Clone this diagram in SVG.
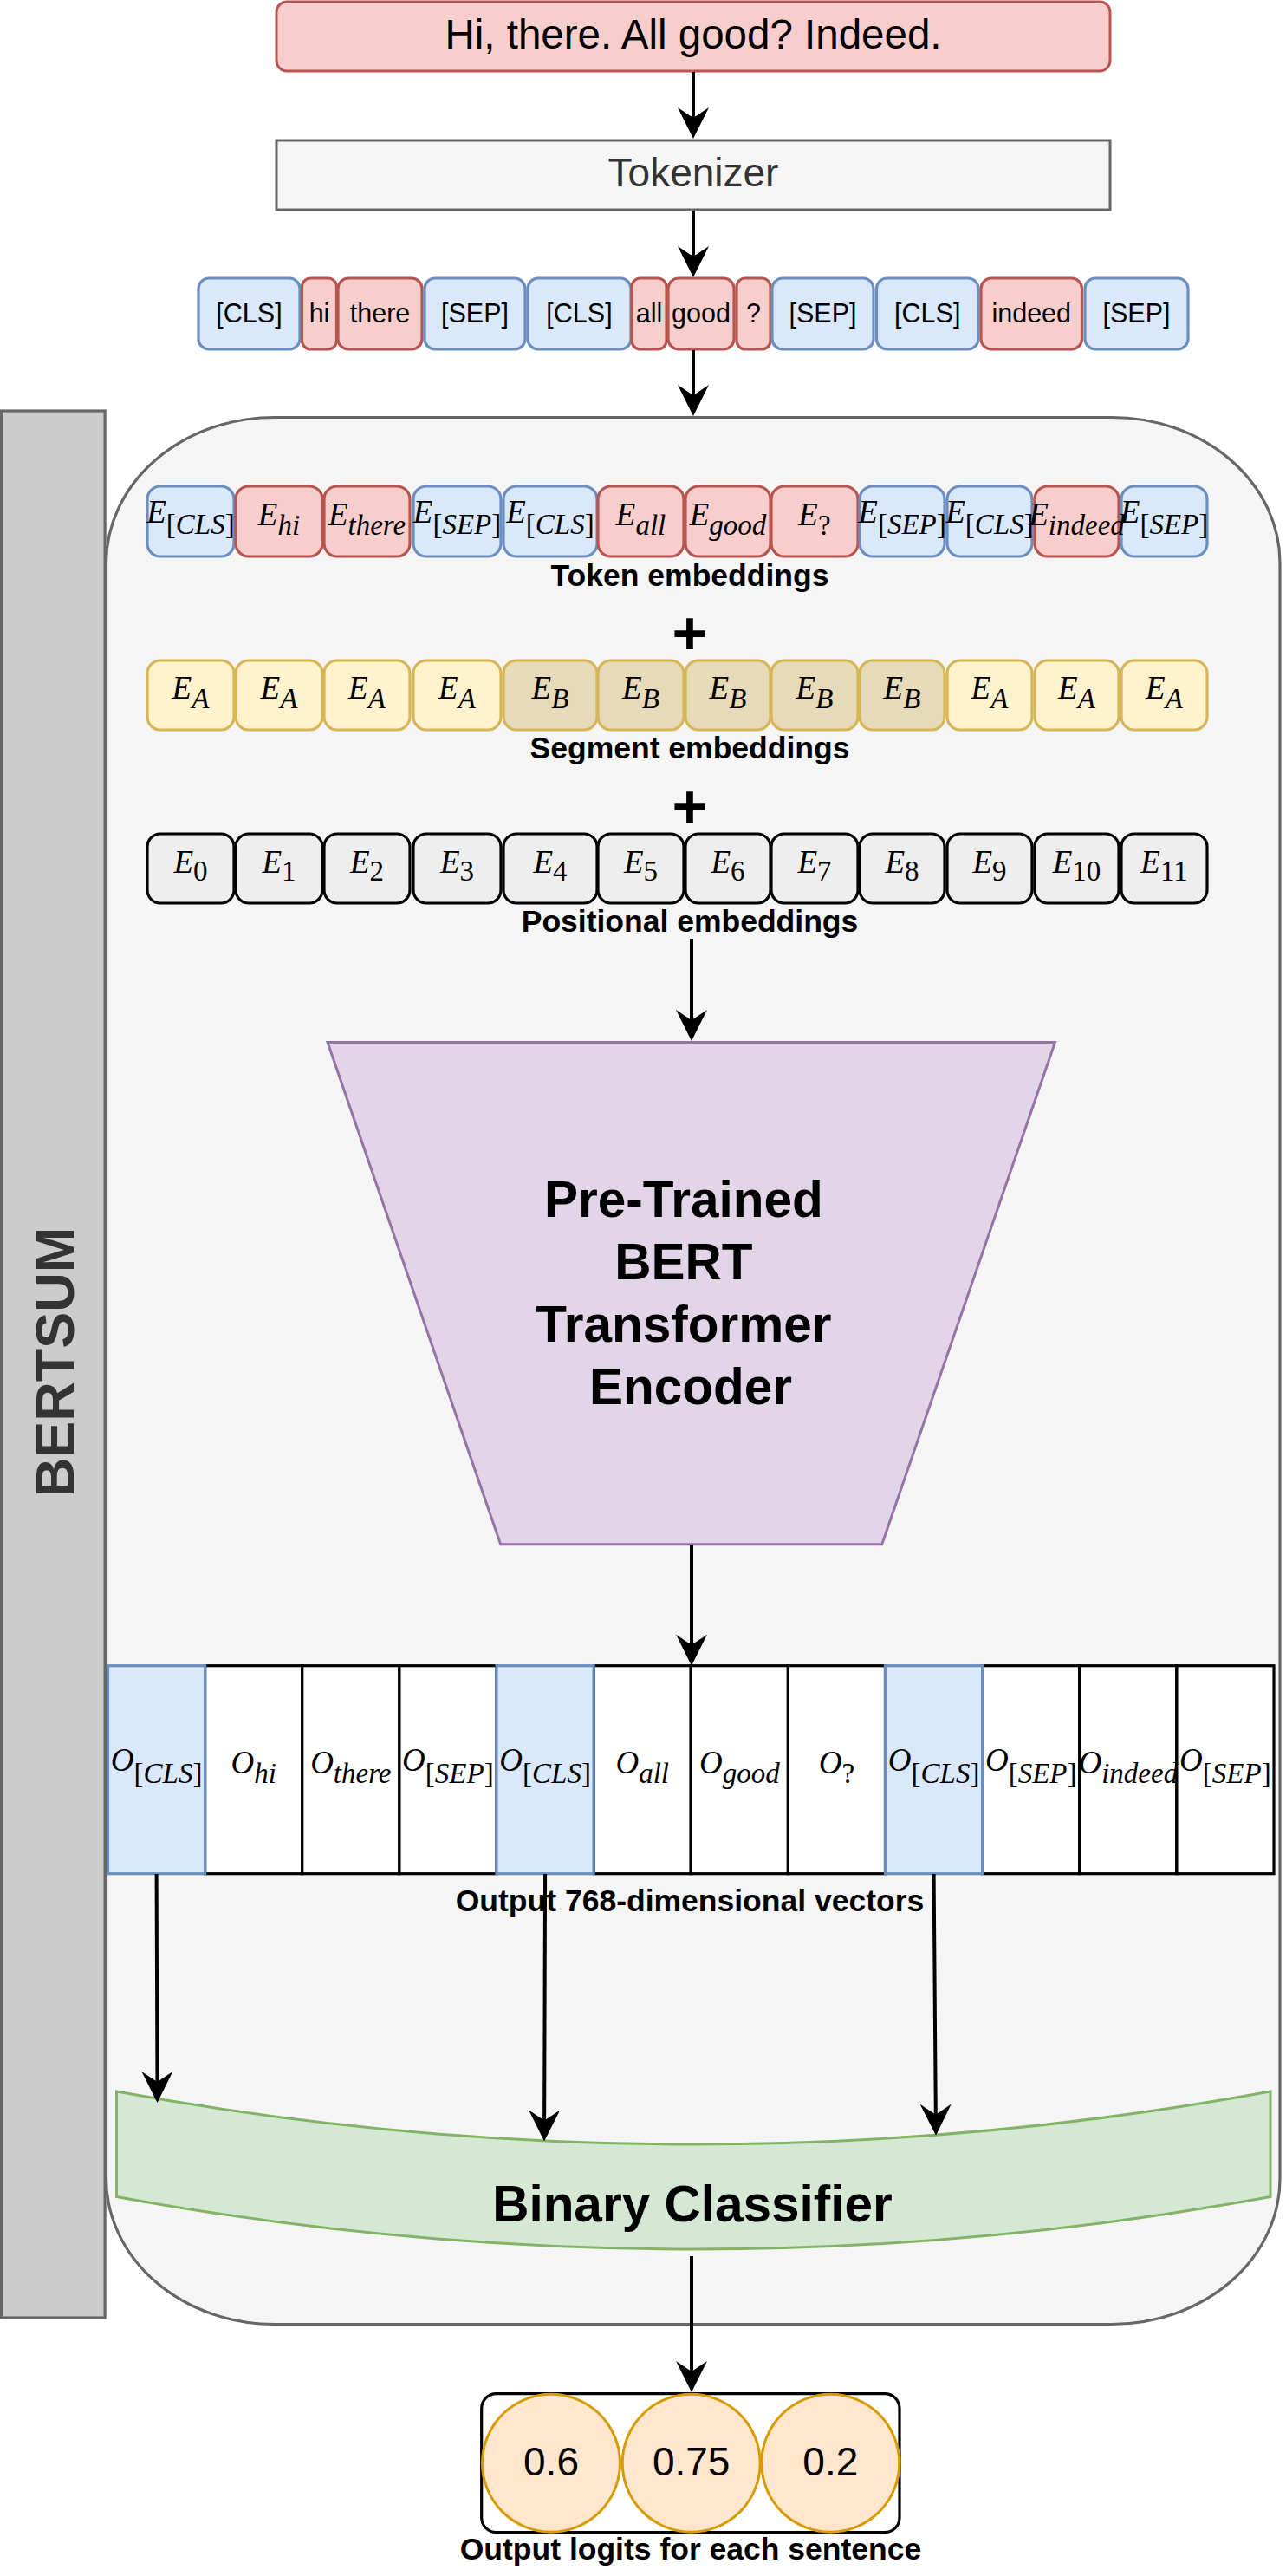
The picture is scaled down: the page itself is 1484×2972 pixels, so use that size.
<svg xmlns="http://www.w3.org/2000/svg" width="1484" height="2972" viewBox="0 0 1484 2972">
<defs>
<marker id="arr" markerUnits="userSpaceOnUse" markerWidth="36" markerHeight="36" viewBox="0 0 36 36" refX="24" refY="18" orient="auto"><path d="M0,0 L36,18 L0,36 L12,18 Z" fill="#000"/></marker>
</defs>
<style>
.lbl{font-family:"Liberation Sans",Arial,sans-serif;font-weight:bold;font-size:35.5px;text-anchor:middle;fill:#000}
.tok{font-family:"Liberation Sans",Arial,sans-serif;font-size:30.5px;text-anchor:middle;fill:#000}
.m{font-family:"Liberation Serif","Times New Roman",serif;font-style:italic;font-size:37px;text-anchor:middle;fill:#000}
.s{font-size:33px}
.u{font-style:normal}
.red{fill:#f8cecc;stroke:#b85450;stroke-width:3.2}
.blue{fill:#dae8fc;stroke:#6c8ebf;stroke-width:3.2}
.yel{fill:#fff2cc;stroke:#d6b656;stroke-width:3.2}
.tan{fill:#e6dab8;stroke:#d6b656;stroke-width:3.2}
.pos{fill:#eeeeee;stroke:#000;stroke-width:3.2}
.cell{fill:#ffffff;stroke:#000;stroke-width:3.2}
.cellb{fill:#dae8fc;stroke:#6c8ebf;stroke-width:3.2}
.plus{font-family:"Liberation Sans",Arial,sans-serif;font-weight:bold;font-size:70px;text-anchor:middle;fill:#000}
.edge{fill:none;stroke:#000;stroke-width:4;marker-end:url(#arr)}
</style>

<g id="bertsum-container">
<path d="M316.5,481.5 H1283 A194,168 0 0 1 1477,649.5 V2513.5 A194,168 0 0 1 1283,2681.5 H316.5 A194,168 0 0 1 122.5,2513.5 V649.5 A194,168 0 0 1 316.5,481.5 Z" fill="#f5f5f5" stroke="#666666" stroke-width="3.2"/>
</g>
<g id="bertsum-bar">
<rect x="1.6" y="474" width="119.5" height="2200" fill="#cccccc" stroke="#666666" stroke-width="3.2"/>
<text transform="translate(85,1571.5) rotate(-90)" text-anchor="middle" font-family="Liberation Sans, Arial, sans-serif" font-weight="bold" font-size="63" fill="#333333">BERTSUM</text>
</g>

<g id="input-text">
<rect x="319" y="2" width="962" height="80" rx="12" fill="#f8cecc" stroke="#b85450" stroke-width="3"/>
<text x="800" y="56" text-anchor="middle" font-family="Liberation Sans, Arial, sans-serif" font-size="47.5" fill="#000">Hi, there. All good? Indeed.</text>
</g>
<g id="tokenizer">
<rect x="319" y="162" width="962" height="80" fill="#f5f5f5" stroke="#666666" stroke-width="3"/>
<text x="800" y="215" text-anchor="middle" font-family="Liberation Sans, Arial, sans-serif" font-size="46" fill="#333333">Tokenizer</text>
</g>

<g id="tokens">
<rect class="blue" x="229" y="321" width="117" height="82" rx="12"/><text class="tok" x="287.5" y="372">[CLS]</text>
<rect class="red" x="348.5" y="321" width="40" height="82" rx="10"/><text class="tok" x="368.5" y="372">hi</text>
<rect class="red" x="390" y="321" width="97" height="82" rx="12"/><text class="tok" x="438.5" y="372">there</text>
<rect class="blue" x="490" y="321" width="116" height="82" rx="12"/><text class="tok" x="548" y="372">[SEP]</text>
<rect class="blue" x="609" y="321" width="119" height="82" rx="12"/><text class="tok" x="668.5" y="372">[CLS]</text>
<rect class="red" x="729" y="321" width="40" height="82" rx="10"/><text class="tok" x="749" y="372">all</text>
<rect class="red" x="771" y="321" width="76" height="82" rx="12"/><text class="tok" x="809" y="372">good</text>
<rect class="red" x="850" y="321" width="39" height="82" rx="10"/><text class="tok" x="869.5" y="372">?</text>
<rect class="blue" x="891" y="321" width="117" height="82" rx="12"/><text class="tok" x="949.5" y="372">[SEP]</text>
<rect class="blue" x="1011.5" y="321" width="117.5" height="82" rx="12"/><text class="tok" x="1070.25" y="372">[CLS]</text>
<rect class="red" x="1132" y="321" width="116.5" height="82" rx="12"/><text class="tok" x="1190.25" y="372">indeed</text>
<rect class="blue" x="1252" y="321" width="119" height="82" rx="12"/><text class="tok" x="1311.5" y="372">[SEP]</text>
</g>

<g id="token-embeddings">
<rect class="blue" x="170" y="561" width="100" height="81" rx="15"/>
<rect class="red" x="272" y="561" width="100" height="81" rx="15"/>
<rect class="red" x="374" y="561" width="99" height="81" rx="15"/>
<rect class="blue" x="477" y="561" width="101" height="81" rx="15"/>
<rect class="blue" x="581" y="561" width="108" height="81" rx="15"/>
<rect class="red" x="690" y="561" width="99" height="81" rx="15"/>
<rect class="red" x="791" y="561" width="98" height="81" rx="15"/>
<rect class="red" x="890" y="561" width="100" height="81" rx="15"/>
<rect class="blue" x="992" y="561" width="98" height="81" rx="15"/>
<rect class="blue" x="1093" y="561" width="98" height="81" rx="15"/>
<rect class="red" x="1194" y="561" width="97" height="81" rx="15"/>
<rect class="blue" x="1294" y="561" width="99" height="81" rx="15"/>
<text class="m" x="220" y="602.5">E<tspan class="s" dy="13"><tspan class="u">[</tspan>CLS<tspan class="u">]</tspan></tspan></text>
<text class="m" x="322" y="605.5">E<tspan class="s" dy="11">hi</tspan></text>
<text class="m" x="423.5" y="605.5">E<tspan class="s" dy="11">there</tspan></text>
<text class="m" x="527.5" y="602.5">E<tspan class="s" dy="13"><tspan class="u">[</tspan>SEP<tspan class="u">]</tspan></tspan></text>
<text class="m" x="635" y="602.5">E<tspan class="s" dy="13"><tspan class="u">[</tspan>CLS<tspan class="u">]</tspan></tspan></text>
<text class="m" x="739.5" y="605.5">E<tspan class="s" dy="11">all</tspan></text>
<text class="m" x="840" y="605.5">E<tspan class="s" dy="11">good</tspan></text>
<text class="m" x="940" y="605.5">E<tspan class="s u" dy="11">?</tspan></text>
<text class="m" x="1041" y="602.5">E<tspan class="s" dy="13"><tspan class="u">[</tspan>SEP<tspan class="u">]</tspan></tspan></text>
<text class="m" x="1142" y="602.5">E<tspan class="s" dy="13"><tspan class="u">[</tspan>CLS<tspan class="u">]</tspan></tspan></text>
<text class="m" x="1242.5" y="605.5">E<tspan class="s" dy="11">indeed</tspan></text>
<text class="m" x="1343.5" y="602.5">E<tspan class="s" dy="13"><tspan class="u">[</tspan>SEP<tspan class="u">]</tspan></tspan></text>
<text class="lbl" x="796" y="676">Token embeddings</text>
</g>

<g id="plus-1"><text class="plus" x="796" y="754.5">+</text></g>

<g id="segment-embeddings">
<rect class="yel" x="170" y="762" width="100" height="80" rx="15"/>
<rect class="yel" x="272" y="762" width="100" height="80" rx="15"/>
<rect class="yel" x="374" y="762" width="99" height="80" rx="15"/>
<rect class="yel" x="477" y="762" width="101" height="80" rx="15"/>
<rect class="tan" x="581" y="762" width="108" height="80" rx="15"/>
<rect class="tan" x="690" y="762" width="99" height="80" rx="15"/>
<rect class="tan" x="791" y="762" width="98" height="80" rx="15"/>
<rect class="tan" x="890" y="762" width="100" height="80" rx="15"/>
<rect class="tan" x="992" y="762" width="98" height="80" rx="15"/>
<rect class="yel" x="1093" y="762" width="98" height="80" rx="15"/>
<rect class="yel" x="1194" y="762" width="97" height="80" rx="15"/>
<rect class="yel" x="1294" y="762" width="99" height="80" rx="15"/>
<text class="m" x="220" y="806">E<tspan class="s" dy="11">A</tspan></text>
<text class="m" x="322" y="806">E<tspan class="s" dy="11">A</tspan></text>
<text class="m" x="423.5" y="806">E<tspan class="s" dy="11">A</tspan></text>
<text class="m" x="527.5" y="806">E<tspan class="s" dy="11">A</tspan></text>
<text class="m" x="635" y="806">E<tspan class="s" dy="11">B</tspan></text>
<text class="m" x="739.5" y="806">E<tspan class="s" dy="11">B</tspan></text>
<text class="m" x="840" y="806">E<tspan class="s" dy="11">B</tspan></text>
<text class="m" x="940" y="806">E<tspan class="s" dy="11">B</tspan></text>
<text class="m" x="1041" y="806">E<tspan class="s" dy="11">B</tspan></text>
<text class="m" x="1142" y="806">E<tspan class="s" dy="11">A</tspan></text>
<text class="m" x="1242.5" y="806">E<tspan class="s" dy="11">A</tspan></text>
<text class="m" x="1343.5" y="806">E<tspan class="s" dy="11">A</tspan></text>
<text class="lbl" x="796" y="875">Segment embeddings</text>
</g>

<g id="plus-2"><text class="plus" x="796" y="954.5">+</text></g>

<g id="positional-embeddings">
<rect class="pos" x="170" y="962" width="100" height="80" rx="15"/>
<rect class="pos" x="272" y="962" width="100" height="80" rx="15"/>
<rect class="pos" x="374" y="962" width="99" height="80" rx="15"/>
<rect class="pos" x="477" y="962" width="101" height="80" rx="15"/>
<rect class="pos" x="581" y="962" width="108" height="80" rx="15"/>
<rect class="pos" x="690" y="962" width="99" height="80" rx="15"/>
<rect class="pos" x="791" y="962" width="98" height="80" rx="15"/>
<rect class="pos" x="890" y="962" width="100" height="80" rx="15"/>
<rect class="pos" x="992" y="962" width="98" height="80" rx="15"/>
<rect class="pos" x="1093" y="962" width="98" height="80" rx="15"/>
<rect class="pos" x="1194" y="962" width="97" height="80" rx="15"/>
<rect class="pos" x="1294" y="962" width="99" height="80" rx="15"/>
<text class="m" x="220" y="1006.5">E<tspan class="s u" dy="9.5">0</tspan></text>
<text class="m" x="322" y="1006.5">E<tspan class="s u" dy="9.5">1</tspan></text>
<text class="m" x="423.5" y="1006.5">E<tspan class="s u" dy="9.5">2</tspan></text>
<text class="m" x="527.5" y="1006.5">E<tspan class="s u" dy="9.5">3</tspan></text>
<text class="m" x="635" y="1006.5">E<tspan class="s u" dy="9.5">4</tspan></text>
<text class="m" x="739.5" y="1006.5">E<tspan class="s u" dy="9.5">5</tspan></text>
<text class="m" x="840" y="1006.5">E<tspan class="s u" dy="9.5">6</tspan></text>
<text class="m" x="940" y="1006.5">E<tspan class="s u" dy="9.5">7</tspan></text>
<text class="m" x="1041" y="1006.5">E<tspan class="s u" dy="9.5">8</tspan></text>
<text class="m" x="1142" y="1006.5">E<tspan class="s u" dy="9.5">9</tspan></text>
<text class="m" x="1242.5" y="1006.5">E<tspan class="s u" dy="9.5">10</tspan></text>
<text class="m" x="1343.5" y="1006.5">E<tspan class="s u" dy="9.5">11</tspan></text>
<text class="lbl" x="796" y="1075">Positional embeddings</text>
</g>

<g id="bert-encoder">
<polygon points="378,1202.5 1217.5,1202.5 1017.7,1781.8 577.7,1781.8" fill="#e1d5e7" stroke="#9673a6" stroke-width="3"/>
<text text-anchor="middle" font-family="Liberation Sans, Arial, sans-serif" font-weight="bold" font-size="58.5" fill="#000">
<tspan x="797" y="1403.5">Pre-Trained</tspan>
<tspan x="797" y="1475.5">BERT</tspan>
<tspan x="797" y="1547.5">Transformer</tspan>
<tspan x="797" y="1619.5">Encoder</tspan>
</text>
</g>

<g id="output-vectors">
<rect class="cell" x="236.6" y="1921.7" width="112.15" height="240"/>
<rect class="cell" x="348.75" y="1921.7" width="112.15" height="240"/>
<rect class="cell" x="460.9" y="1921.7" width="112.1" height="240"/>
<rect class="cell" x="685.1" y="1921.7" width="112.15" height="240"/>
<rect class="cell" x="797.25" y="1921.7" width="112.15" height="240"/>
<rect class="cell" x="909.4" y="1921.7" width="112.1" height="240"/>
<rect class="cell" x="1133.6" y="1921.7" width="112.15" height="240"/>
<rect class="cell" x="1245.75" y="1921.7" width="112.15" height="240"/>
<rect class="cell" x="1357.9" y="1921.7" width="112.1" height="240"/>
<rect class="cellb" x="124.5" y="1921.7" width="112.1" height="240"/>
<rect class="cellb" x="573" y="1921.7" width="112.1" height="240"/>
<rect class="cellb" x="1021.5" y="1921.7" width="112.1" height="240"/>
<text class="m" x="180.6" y="2043">O<tspan class="s" dy="14"><tspan class="u">[</tspan>CLS<tspan class="u">]</tspan></tspan></text>
<text class="m" x="292.7" y="2046">O<tspan class="s" dy="11">hi</tspan></text>
<text class="m" x="404.8" y="2046">O<tspan class="s" dy="11">there</tspan></text>
<text class="m" x="516.9" y="2043">O<tspan class="s" dy="14"><tspan class="u">[</tspan>SEP<tspan class="u">]</tspan></tspan></text>
<text class="m" x="629.1" y="2043">O<tspan class="s" dy="14"><tspan class="u">[</tspan>CLS<tspan class="u">]</tspan></tspan></text>
<text class="m" x="741.2" y="2046">O<tspan class="s" dy="11">all</tspan></text>
<text class="m" x="853.3" y="2046">O<tspan class="s" dy="11">good</tspan></text>
<text class="m" x="965.4" y="2046">O<tspan class="s u" dy="11">?</tspan></text>
<text class="m" x="1077.6" y="2043">O<tspan class="s" dy="14"><tspan class="u">[</tspan>CLS<tspan class="u">]</tspan></tspan></text>
<text class="m" x="1189.7" y="2043">O<tspan class="s" dy="14"><tspan class="u">[</tspan>SEP<tspan class="u">]</tspan></tspan></text>
<text class="m" x="1301.8" y="2046">O<tspan class="s" dy="11">indeed</tspan></text>
<text class="m" x="1413.9" y="2043">O<tspan class="s" dy="14"><tspan class="u">[</tspan>SEP<tspan class="u">]</tspan></tspan></text>
<text class="lbl" x="796" y="2205">Output 768-dimensional vectors</text>
</g>

<g id="binary-classifier">
<path d="M134.5,2413 Q800,2535 1466,2413 L1466,2534.6 Q800,2655.4 134.5,2534.6 Z" fill="#d5e8d4" stroke="#82b366" stroke-width="3"/>
<text x="799" y="2563" text-anchor="middle" font-family="Liberation Sans, Arial, sans-serif" font-weight="bold" font-size="58.5" fill="#000">Binary Classifier</text>
</g>

<g id="output-logits">
<rect x="555.7" y="2761.7" width="482.3" height="160" rx="17" fill="#ffffff" stroke="#000" stroke-width="3.2"/>
<circle cx="636" cy="2841.7" r="79.5" fill="#ffe6cc" stroke="#d79b00" stroke-width="3"/>
<circle cx="797.7" cy="2841.7" r="79.5" fill="#ffe6cc" stroke="#d79b00" stroke-width="3"/>
<circle cx="958.3" cy="2841.7" r="79.5" fill="#ffe6cc" stroke="#d79b00" stroke-width="3"/>
<text x="636" y="2856" text-anchor="middle" font-family="Liberation Sans, Arial, sans-serif" font-size="46" fill="#000">0.6</text>
<text x="797.7" y="2856" text-anchor="middle" font-family="Liberation Sans, Arial, sans-serif" font-size="46" fill="#000">0.75</text>
<text x="958.3" y="2856" text-anchor="middle" font-family="Liberation Sans, Arial, sans-serif" font-size="46" fill="#000">0.2</text>
<text class="lbl" x="797" y="2953">Output logits for each sentence</text>
</g>

<g id="connectors">
<path class="edge" d="M800,83 L800,148"/>
<path class="edge" d="M800,243 L800,308"/>
<path class="edge" d="M800,404 L800,468"/>
<path class="edge" d="M798,1083 L798,1189"/>
<path class="edge" d="M798,1783 L798,1909.7"/>
<path class="edge" d="M180.6,2162 L181.5,2414"/>
<path class="edge" d="M629.1,2162 L628.1,2458.5"/>
<path class="edge" d="M1077.6,2162 L1079.9,2451.7"/>
<path class="edge" d="M798,2603 L798,2748"/>
</g>
</svg>
